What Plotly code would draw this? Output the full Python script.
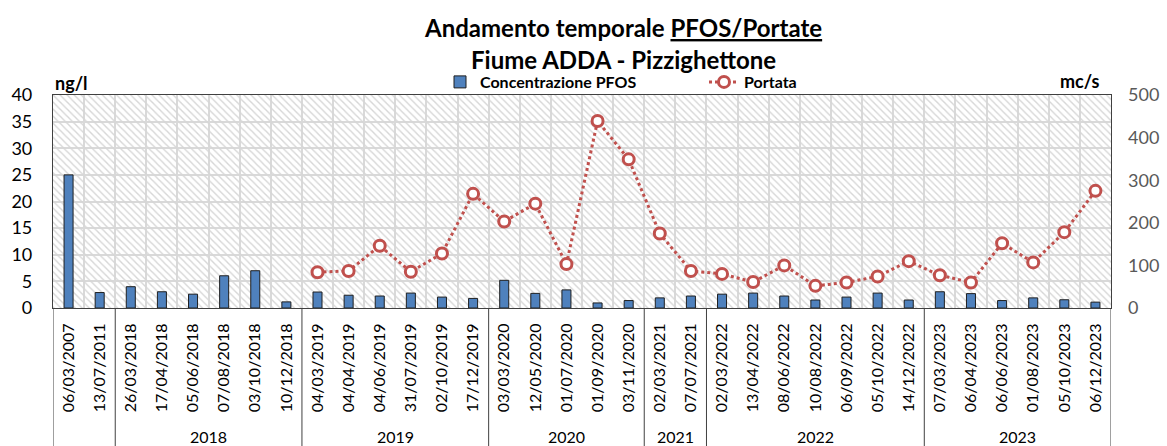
import plotly.graph_objects as go

dates = ["06/03/2007", "13/07/2011",
         "26/03/2018", "17/04/2018", "05/06/2018", "07/08/2018", "03/10/2018", "10/12/2018",
         "04/03/2019", "04/04/2019", "04/06/2019", "31/07/2019", "02/10/2019", "17/12/2019",
         "03/03/2020", "12/05/2020", "01/07/2020", "01/09/2020", "03/11/2020",
         "02/03/2021", "07/07/2021",
         "02/03/2022", "13/04/2022", "08/06/2022", "10/08/2022", "06/09/2022", "05/10/2022", "14/12/2022",
         "07/03/2023", "06/04/2023", "06/06/2023", "01/08/2023", "05/10/2023", "06/12/2023"]

pfos = [25.0, 2.9,
        4.0, 3.05, 2.6, 6.05, 7.0, 1.15,
        3.0, 2.4, 2.25, 2.8, 2.05, 1.8,
        5.2, 2.75, 3.4, 0.95, 1.4,
        1.9, 2.25,
        2.6, 2.8, 2.25, 1.5, 2.05, 2.8, 1.5,
        3.05, 2.7, 1.4, 1.9, 1.55, 1.1]

portata = [None, None,
           None, None, None, None, None, None,
           84, 87, 146, 85, 128, 268,
           203, 245, 103, 439, 349,
           175, 87,
           80, 61, 100, 52, 60, 74, 110,
           77, 60, 152, 107, 178, 275]

year_labels = ["", "2018", "2019", "2020", "2021", "2022", "2023"]
year_sizes = [2, 6, 6, 5, 2, 7, 6]

left_ticks = [0, 5, 10, 15, 20, 25, 30, 35, 40]
right_ticks = [0, 100, 200, 300, 400, 500]
LEFT_MAX = 40
RIGHT_MAX = 500

FONT = "Lato"
BLUE = "#4f81bd"
RED = "#c0504d"
GRID = "#d9d9d9"
DARK = "#404040"

W, H = 1167, 446
ML, MR, MT, MB = 53, 56, 95, 138
PW = W - ML - MR
PH = H - MT - MB


def py(px):
    """pixel row (from top of figure) -> paper y"""
    return 1 + (MT - px) / PH


def pxx(px):
    """pixel column -> paper x"""
    return (px - ML) / PW


fig = go.Figure()

# hatched plot background
fig.add_trace(go.Bar(
    x=dates, y=[LEFT_MAX] * len(dates), width=1.0,
    marker=dict(color="rgba(0,0,0,0)", line=dict(width=0),
                pattern=dict(shape="\\", fgcolor="#d6d6d6", bgcolor="rgba(0,0,0,0)",
                             size=5, solidity=0.28, fillmode="replace")),
    showlegend=False, hoverinfo="skip", yaxis="y"))

fig.add_trace(go.Bar(
    x=dates, y=pfos, name="<b>Concentrazione PFOS</b>", width=0.29,
    marker=dict(color=BLUE, line=dict(color="#1f1f1f", width=1)),
    yaxis="y", legend="legend"))

fig.add_trace(go.Scatter(
    x=dates, y=portata, name="<b>Portata</b>", mode="lines+markers",
    line=dict(color=RED, width=3, dash="dot"),
    marker=dict(symbol="circle", size=11, color="white", line=dict(color=RED, width=3)),
    connectgaps=False, yaxis="y2", legend="legend2"))

# year dividers and labels
shapes = []
annotations = []
start = 0
bounds = [start - 0.5]
for lab, n in zip(year_labels, year_sizes):
    end = start + n
    bounds.append(end - 0.5)
    annotations.append(dict(x=(start + end - 1) / 2, y=py(436), xref="x", yref="paper",
                            text=lab, showarrow=False, yanchor="middle",
                            font=dict(family=FONT, size=16, color="black")))
    start = end
for b in bounds:
    shapes.append(dict(type="line", xref="x", yref="paper", x0=b, x1=b, y0=0, y1=py(448),
                       line=dict(color=DARK, width=1)))

annotations += [
    dict(x=pxx(623), y=py(27), xref="paper", yref="paper", xanchor="center", yanchor="middle",
         text="<b>Andamento temporale <u>PFOS/Portate</u></b>", showarrow=False,
         font=dict(family=FONT, size=24, color="black")),
    dict(x=pxx(623), y=py(59), xref="paper", yref="paper", xanchor="center", yanchor="middle",
         text="<b>Fiume ADDA - Pizzighettone</b>", showarrow=False,
         font=dict(family=FONT, size=24, color="black")),
    dict(x=pxx(53), y=py(83), xref="paper", yref="paper", xanchor="left", yanchor="middle",
         text="<b>ng/l</b>", showarrow=False, font=dict(family=FONT, size=18, color="black")),
    dict(x=pxx(1101), y=py(81), xref="paper", yref="paper", xanchor="right", yanchor="middle",
         text="<b>mc/s</b>", showarrow=False, font=dict(family=FONT, size=18, color="black")),
]

fig.update_layout(
    width=W, height=H,
    margin=dict(l=ML, r=MR, t=MT, b=MB, autoexpand=False),
    paper_bgcolor="white", plot_bgcolor="white",
    barmode="overlay",
    font=dict(family=FONT, color="black"),
    xaxis=dict(type="category", tickson="boundaries", showgrid=True, gridcolor=GRID, gridwidth=1.5,
               ticks="", tickangle=-90, tickfont=dict(family=FONT, size=16, color="black"),
               ticklabelstandoff=8,
               showline=True, mirror=True, linecolor=DARK, linewidth=1.2,
               range=[-0.5, len(dates) - 0.5]),
    yaxis=dict(range=[0, LEFT_MAX], tickvals=left_ticks, showgrid=True, gridcolor=GRID, gridwidth=1.5,
               tickfont=dict(family=FONT, size=18, color="black"), ticks="", ticklabelstandoff=16,
               showline=True, mirror=True, linecolor=DARK, linewidth=1.2, zeroline=False),
    yaxis2=dict(range=[0, RIGHT_MAX], tickvals=right_ticks, overlaying="y", side="right",
                showgrid=False, zeroline=False, ticks="", ticklabelstandoff=16,
                tickfont=dict(family=FONT, size=18, color="#595959")),
    legend=dict(orientation="h", x=pxx(440), y=py(82), xanchor="left", yanchor="middle",
                font=dict(family=FONT, size=16, color="black"), bgcolor="rgba(0,0,0,0)"),
    legend2=dict(orientation="h", x=pxx(704), y=py(82), xanchor="left", yanchor="middle",
                 font=dict(family=FONT, size=16, color="black"), bgcolor="rgba(0,0,0,0)"),
    shapes=shapes,
    annotations=annotations,
    showlegend=True,
)

fig.write_html("out.html", config={"displayModeBar": False},
               post_script="document.body.style.margin='0px';document.body.style.overflow='hidden';")
